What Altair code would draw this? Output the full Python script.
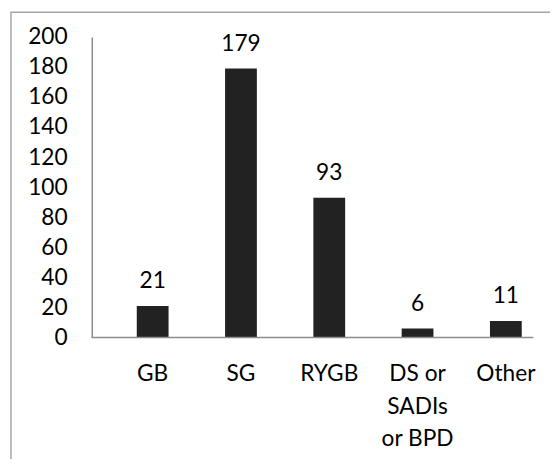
import altair as alt
import pandas as pd

categories = ["GB", "SG", "RYGB", "DS or|SADIs|or BPD", "Other"]
counts = [21, 179, 93, 6, 11]
y_ticks = [0, 20, 40, 60, 80, 100, 120, 140, 160, 180, 200]

df = pd.DataFrame({"cat": categories, "n": counts})

W, H = 448, 305
FONT = "Lato"
FS = 23

xsc = alt.Scale(domain=categories, range=[17, 465], paddingInner=0.64, paddingOuter=0.32)
ysc = alt.Scale(domain=[0, 200])

x_axis = alt.Axis(title=None, domain=False, ticks=False, labelAngle=0,
                  labelFont=FONT, labelFontSize=FS, labelColor="#000000",
                  labelPadding=26, labelLineHeight=33, labelOverlap=False,
                  labelExpr="split(datum.label, '|')")
y_axis = alt.Axis(title=None, values=y_ticks, grid=False, ticks=False,
                  domainColor="#8c8c8c", domainWidth=1.5, labelOverlap=False,
                  labelFont=FONT, labelFontSize=FS, labelColor="#000000",
                  labelPadding=25)

base = alt.Chart(df)

border = alt.Chart(pd.DataFrame({"a": [0]})).mark_rect(
    filled=False, stroke="#a6a6a6", strokeWidth=1.5, clip=False
).encode(
    x=alt.value(-82), x2=alt.value(480), y=alt.value(-25), y2=alt.value(460)
)

bars = base.mark_bar(color="#222222").encode(
    x=alt.X("cat:N", scale=xsc, sort=categories, axis=x_axis),
    y=alt.Y("n:Q", scale=ysc, axis=y_axis),
)

text = base.mark_text(font=FONT, fontSize=FS, color="#000000", baseline="alphabetic", dy=-18).encode(
    x=alt.X("cat:N", scale=xsc, sort=categories, axis=x_axis),
    y=alt.Y("n:Q", scale=ysc, axis=y_axis),
    text=alt.Text("n:Q"),
)

baseline = alt.Chart(pd.DataFrame({"z": [0]})).mark_rule(color="#8c8c8c", strokeWidth=1.5).encode(
    x=alt.value(0), x2=alt.value(W), y=alt.Y("z:Q", scale=ysc, axis=y_axis)
)

chart = alt.layer(border, bars, text, baseline).properties(
    width=W, height=H,
    autosize=alt.AutoSizeParams(type="none"),
    padding={"left": 85, "top": 26, "right": 17, "bottom": 120},
    background="white",
).configure_view(stroke=None).configure_axis(labelOverlap=False)

chart.save("out.html", embed_options={"renderer": "svg", "actions": False})
